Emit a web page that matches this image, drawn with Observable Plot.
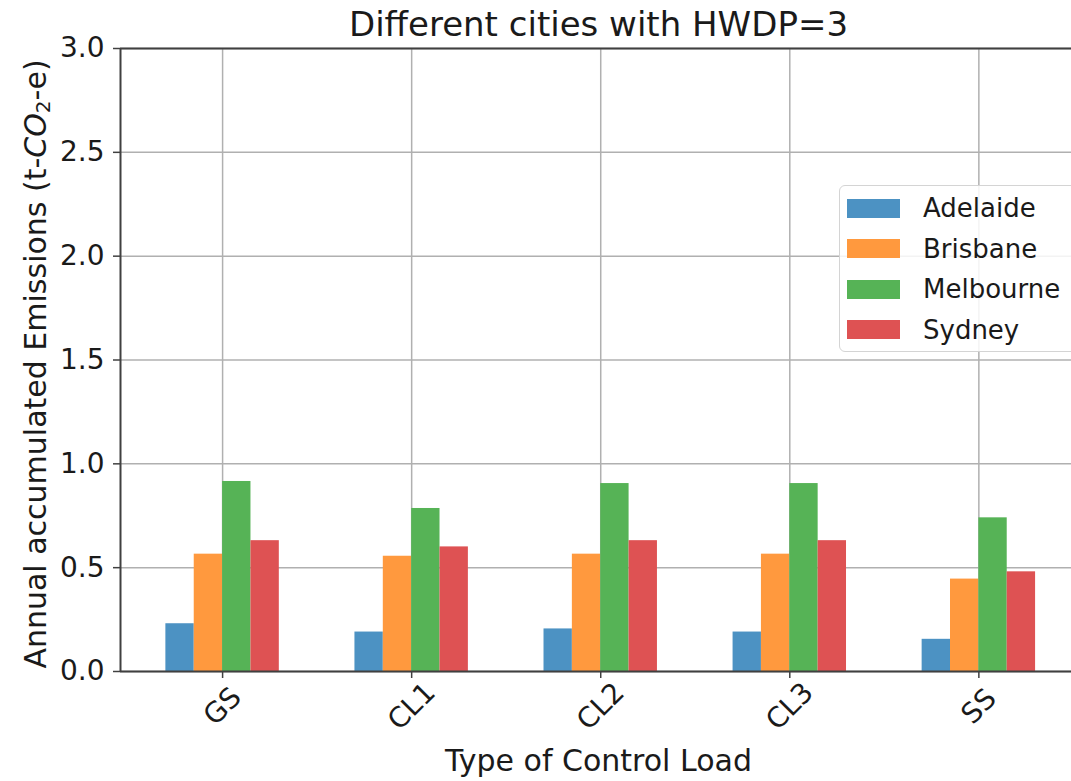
<!DOCTYPE html>
<html>
<head>
<meta charset="utf-8">
<script src="https://cdn.jsdelivr.net/npm/d3@7"></script>
<script src="https://cdn.jsdelivr.net/npm/@observablehq/plot@0.6"></script>
<style>
  html, body { margin: 0; padding: 0; background: #fff; }
  #fig { position: relative; width: 1071px; height: 781px; overflow: hidden; font-family: "DejaVu Sans", sans-serif; color: #1a1a1a; }
  #title { position: absolute; left: 120px; width: 957px; top: 3px; text-align: center; font-size: 34px; line-height: 42px; }
  #ylabel { position: absolute; left: 36px; top: 364px; transform: translate(-50%, -50%) rotate(-90deg); white-space: nowrap; font-size: 30px; line-height: 34px; }
  #ylabel sub { font-size: 20px; vertical-align: -4px; line-height: 0; }
  #xlabel { position: absolute; left: 120px; width: 957px; top: 743px; text-align: center; font-size: 30px; line-height: 36px; }
  #legend { position: absolute; left: 839px; top: 185px; width: 250px; height: 167px; border: 1.5px solid #d4d4d4; border-radius: 6px; background: rgba(255,255,255,0.85); box-sizing: border-box; }
  .row { position: absolute; left: 0; height: 40px; display: flex; align-items: center; font-size: 26px; }
  .sw { width: 53px; height: 19px; margin-left: 7px; margin-right: 23px; }
</style>
</head>
<body>
<div id="fig">
  <div id="chart"></div>
  <div id="title">Different cities with HWDP=3</div>
  <div id="ylabel">Annual accumulated Emissions (t-<i>CO</i><sub>2</sub>-e)</div>
  <div id="xlabel">Type of Control Load</div>
  <div id="legend"></div>
</div>
<script>
const categories = ["GS", "CL1", "CL2", "CL3", "SS"];
const cities = ["Adelaide", "Brisbane", "Melbourne", "Sydney"];
const adelaide  = [0.23, 0.19, 0.205, 0.19, 0.155];
const brisbane  = [0.565, 0.555, 0.565, 0.565, 0.445];
const melbourne = [0.915, 0.785, 0.905, 0.905, 0.74];
const sydney    = [0.63, 0.60, 0.63, 0.63, 0.48];
const cityColors = ["#4c92c3", "#ff993e", "#56b356", "#de5253"];
const yTicks = [0, 0.5, 1.0, 1.5, 2.0, 2.5, 3.0];

const series = [adelaide, brisbane, melbourne, sydney];
const barWidth = 0.15;
const xDomain = [-0.54, 4.49];
const rows = [];
series.forEach((vals, j) => vals.forEach((v, i) => rows.push({i, j, city: cities[j], value: v})));

const chart = Plot.plot({
  width: 1071,
  height: 781,
  marginTop: 48,
  marginBottom: 110,
  marginLeft: 120,
  marginRight: 0,
  style: {fontFamily: "DejaVu Sans, sans-serif", background: "transparent", color: "#1a1a1a"},
  x: {type: "linear", domain: xDomain},
  y: {domain: [0, 3]},
  color: {domain: cities, range: cityColors},
  marks: [
    Plot.gridY(yTicks, {stroke: "#b0b0b0", strokeOpacity: 1, strokeWidth: 1.5}),
    Plot.gridX(d3.range(categories.length), {stroke: "#b0b0b0", strokeOpacity: 1, strokeWidth: 1.5}),
    Plot.rectY(rows, {
      x1: d => d.i + (d.j - 2) * barWidth,
      x2: d => d.i + (d.j - 1) * barWidth,
      y: "value",
      fill: "city"
    }),
    Plot.ruleY([0, 3], {stroke: "#404040", strokeWidth: 2}),
    Plot.ruleX([xDomain[0]], {stroke: "#404040", strokeWidth: 2}),
    Plot.axisY(yTicks, {
      tickFormat: d3.format(".1f"),
      tickSize: 7,
      tickPadding: 9,
      fontSize: 28,
      stroke: "#404040",
      strokeWidth: 1.5,
      label: null
    }),
    Plot.axisX(d3.range(categories.length), {
      tickFormat: i => categories[i],
      tickSize: 7,
      tickPadding: 28,
      tickRotate: -45,
      textAnchor: "middle",
      lineAnchor: "middle",
      fontSize: 28,
      stroke: "#404040",
      strokeWidth: 1.5,
      label: null
    })
  ]
});
document.getElementById("chart").appendChild(chart);

const legend = document.getElementById("legend");
cities.forEach((c, j) => {
  const row = document.createElement("div");
  row.className = "row";
  row.style.top = (2 + j * 40.5) + "px";
  const sw = document.createElement("div");
  sw.className = "sw";
  sw.style.background = cityColors[j];
  const tx = document.createElement("span");
  tx.textContent = c;
  row.appendChild(sw);
  row.appendChild(tx);
  legend.appendChild(row);
});
</script>
</body>
</html>
